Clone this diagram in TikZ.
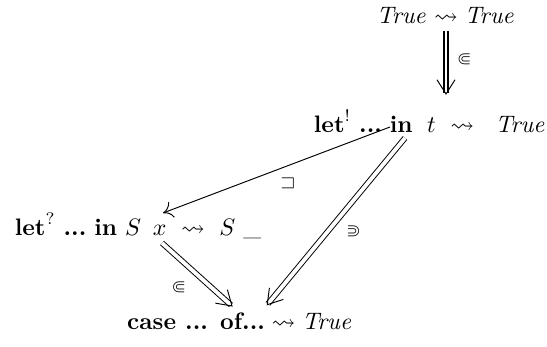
\documentclass[tikz,border=0pt]{standalone}
\usepackage{amsmath,amssymb}
\usepackage{tikz}
\usetikzlibrary{arrows.meta,calc,decorations.markings}

\tikzset{
  obj/.style={inner sep=0pt},
  refines/.style={double, double distance=1.6pt, shorten >=0.6pt},
  vhead/.style={decorate, decoration={markings,
      mark=at position 1 with {\draw[line width=0.4pt] (-6pt,3.8pt) -- (0,0) -- (-6pt,-3.8pt);}}},
  rel/.style={font=\scriptsize, inner sep=0pt}
}

\begin{document}
\begin{tikzpicture}[x=0.42pt, y=-0.42pt]
    \useasboundingbox (0,0) rectangle (547,347);
    % the four rewrites
    \node[obj] (top) at (446,15) {$\mathit{True} \rightsquigarrow \mathit{True}$};
    \node[obj] (mid) at (430,121) {$\textbf{let}^{!}\ \textbf{...}\ \textbf{in}\ \;t\ \rightsquigarrow\ \;\mathit{True}$};
    \node[obj] (lft) at (138,226) {$\textbf{let}^{?}\ \textbf{...}\ \textbf{in}\ S\ \,x\ \rightsquigarrow\ S\ \_$};
    \node[obj] (bot) at (240,321) {$\textbf{case ... of...} \rightsquigarrow \mathit{True}$};
    % top to middle
    \draw[refines, line width=1.1pt, double distance=0.7pt] ($(top)+(0,16)$) -- node[rel, right=4pt, pos=0.45] (r1) {$\Subset$} ($(mid)+(16,-27)$);
    \path[vhead] ($(top)+(0,16)$) -- ($(mid)+(16,-27)$);
    % middle to left
    \draw[-{To[length=4pt,width=7pt]}] ($(mid)+(-40,6)$) -- node[rel, below=5pt, pos=0.45] (r2) {$\sqsupset$} ($(lft)+(25,-13)$);
    % middle to bottom
    \draw[refines] ($(mid)+(-25,17)$) -- node[rel, right=7.5pt, pos=0.56] (r3) {$\Supset$} ($(bot)+(27,-16)$);
    \path[vhead] ($(mid)+(-25,17)$) -- ($(bot)+(27,-16)$);
    % left to bottom
    \draw[refines] ($(lft)+(24,17)$) -- node[rel, left=10.5pt, pos=0.71] (r4) {$\Subset$} ($(bot)+(-8,-15)$);
    \path[vhead] ($(lft)+(24,17)$) -- ($(bot)+(-8,-15)$);
\end{tikzpicture}
\end{document}
